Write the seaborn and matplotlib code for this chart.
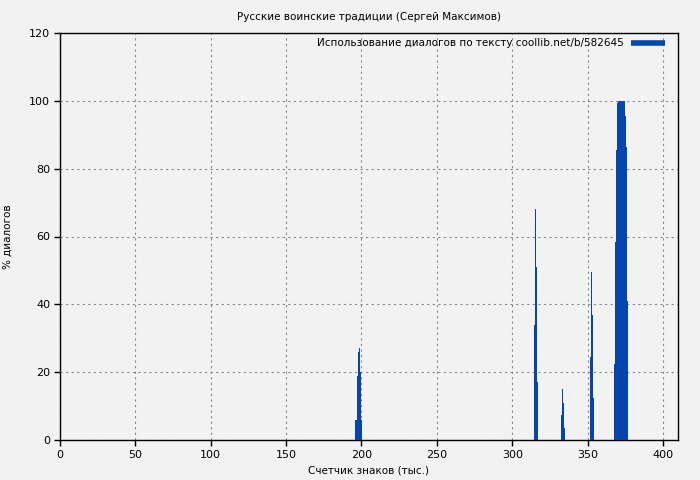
import numpy as np
import pandas as pd
import matplotlib
matplotlib.use("Agg")
import matplotlib.pyplot as plt
from matplotlib.lines import Line2D
from matplotlib.ticker import MultipleLocator
import seaborn as sns

# Data
pos_1 = [195.9, 196.6, 197.2, 197.9, 198.6, 199.2, 199.9]
val_1 = [6, 6, 19, 26, 27, 20, 6]
pos_2 = [315.0, 315.7, 316.3, 317.0]
val_2 = [34, 68, 51, 17]
pos_3 = [332.9, 333.6, 334.2, 334.9]
val_3 = [7.5, 15, 11, 3.5]
pos_4 = [352.1, 352.8, 353.4, 354.1]
val_4 = [24.5, 49.5, 37, 12.5]
pos_5 = [367.9, 368.6, 369.2, 369.9, 370.6, 371.2, 371.9, 372.5, 373.2,
         373.9, 374.5, 375.2, 375.9, 376.5]
val_5 = [22.5, 58.5, 85.5, 99.5, 100, 100, 100, 100, 100, 100, 100, 95.5, 86.5, 41]

title = "Русские воинские традиции (Сергей Максимов)"
legend_label = "Использование диалогов по тексту coollib.net/b/582645"
x_label = "Счетчик знаков (тыс.)"
y_label = "% диалогов"

df = pd.DataFrame({
    "x": pos_1 + pos_2 + pos_3 + pos_4 + pos_5,
    "y": val_1 + val_2 + val_3 + val_4 + val_5,
})

BG = "#f2f2f2"
BLUE = "#0645ad"

sns.set_theme(style="white")
plt.rcParams["font.family"] = ["DejaVu Sans"]
plt.rcParams["text.color"] = "black"
plt.rcParams["axes.labelcolor"] = "black"

fig = plt.figure(figsize=(7, 4.8), dpi=100, facecolor=BG)
ax = fig.add_axes([60 / 700, 40 / 480, 618 / 700, 407 / 480])
ax.set_facecolor(BG)

ax.bar(df["x"], df["y"], width=0.72, color=BLUE, linewidth=0, zorder=3)

ax.set_xlim(0, 410)
ax.set_ylim(0, 120)
ax.xaxis.set_major_locator(MultipleLocator(50))
ax.yaxis.set_major_locator(MultipleLocator(20))
ax.grid(True, color="#888888", linestyle=(0, (2, 3)), linewidth=0.8, zorder=0)
for s in ax.spines.values():
    s.set_color("black")
    s.set_linewidth(1.0)
ax.tick_params(axis="both", direction="out", length=4, width=1, colors="black",
               labelsize=8, pad=3, bottom=True, left=True)

ax.set_title(title, fontsize=7.5, pad=9.5, color="black")
ax.set_xlabel(x_label, fontsize=7.5, labelpad=4.5, color="black")
ax.set_ylabel(y_label, fontsize=7.5, labelpad=12, color="black")

handle = Line2D([0], [0], color=BLUE, linewidth=4, solid_capstyle="butt")
leg = ax.legend([handle], [legend_label], loc="upper right", frameon=False,
                markerfirst=False, fontsize=7.5, handlelength=3.2,
                borderaxespad=0.0, borderpad=0.5, handletextpad=0.7,
                bbox_to_anchor=(1 - 8 / 618, 1.0))
for t in leg.get_texts():
    t.set_color("black")

fig.savefig("out.png", dpi=100, facecolor=BG)
